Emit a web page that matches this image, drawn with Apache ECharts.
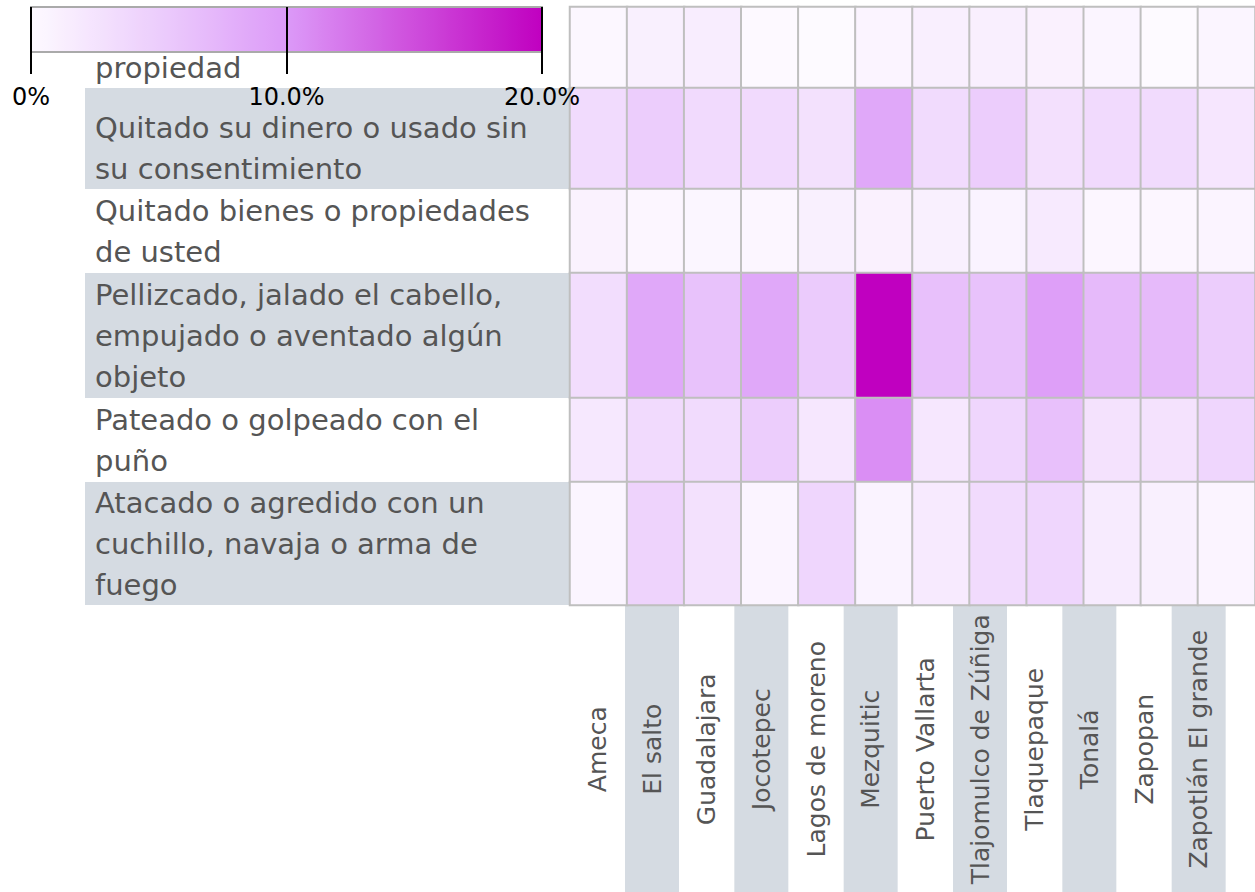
<!DOCTYPE html>
<html>
<head>
    <meta charset="utf-8">
    <title>Violencia por municipio</title>
    <script src="https://cdn.jsdelivr.net/npm/echarts@6/dist/echarts.min.js"></script>
    <style>html, body {margin: 0; padding: 0; background: #fff;}</style>
</head>
<body>
<div id="main" style="width: 1255px;height:892px;"></div>
<script type="text/javascript">
    // columnas
    var municipios = ['Ameca', 'El salto', 'Guadalajara', 'Jocotepec', 'Lagos de moreno', 'Mezquitic',
        'Puerto Vallarta', 'Tlajomulco de Zúñiga', 'Tlaquepaque', 'Tonalá', 'Zapopan', 'Zapotlán El grande'];

    // filas (el texto de la primera queda tapado por la escala)
    var conductas = [
        'Destruido o escondido alguna\npropiedad',
        'Quitado su dinero o usado sin\nsu consentimiento',
        'Quitado bienes o propiedades\nde usted',
        'Pellizcado, jalado el cabello,\nempujado o aventado algún\nobjeto',
        'Pateado o golpeado con el\npuño',
        'Atacado o agredido con un\ncuchillo, navaja o arma de\nfuego'
    ];

    // proporción por municipio, en el orden de "municipios"
    var propiedad  = [0.003, 0.011, 0.015, 0.001, 0.000, 0.007, 0.012, 0.012, 0.010, 0.006, 0.000, 0.006];
    var dinero     = [0.035, 0.050, 0.036, 0.036, 0.028, 0.086, 0.034, 0.050, 0.029, 0.036, 0.035, 0.022];
    var bienes     = [0.009, 0.004, 0.005, 0.004, 0.011, 0.010, 0.011, 0.008, 0.018, 0.004, 0.004, 0.007];
    var pellizcado = [0.032, 0.086, 0.061, 0.086, 0.052, 0.200, 0.063, 0.061, 0.095, 0.069, 0.069, 0.050];
    var pateado    = [0.020, 0.036, 0.034, 0.050, 0.021, 0.108, 0.021, 0.040, 0.063, 0.027, 0.027, 0.040];
    var atacado    = [0.006, 0.043, 0.028, 0.007, 0.040, 0.008, 0.018, 0.035, 0.040, 0.017, 0.011, 0.007];
    var filas = [propiedad, dinero, bienes, pellizcado, pateado, atacado];

    var escalaMin = 0, escalaMax = 0.2, escalaPaso = 0.1;

    // layout: cada fila tiene su propio grid para poder tener altos distintos
    var rowTop = [7, 88, 189, 273, 398, 482];
    var rowH = [81, 101, 84, 125, 84, 123];
    var rowShift = [0, 10, 0, 0, 0, 0];   // bajar el texto de la fila 2
    var FONT = 'DejaVu Sans';
    var GRAY = '#d5dbe2';

    var grid = [], xAxis = [], yAxis = [], series = [];

    filas.forEach(function (fila, i) {
        grid.push({left: 570, width: 695, top: rowTop[i], height: rowH[i]});
        xAxis.push({type: 'category', gridIndex: i, data: municipios, show: false});
        yAxis.push({
            type: 'category', gridIndex: i, data: [conductas[i]],
            axisLine: {show: false}, axisTick: {show: false},
            axisLabel: {
                align: 'left', margin: 475, interval: 0,
                formatter: function (v) { return '{t|' + v.split('\n').join('}\n{t|') + '}'; },
                rich: {t: {color: '#555', fontFamily: FONT, fontSize: 29, lineHeight: 41}},
                backgroundColor: 'rgba(255,255,255,0)',
                padding: [rowShift[i] * 2, 0, 0, 0]
            }
        });
        series.push({
            type: 'heatmap', xAxisIndex: i, yAxisIndex: i,
            data: fila.map(function (v, j) { return [j, 0, v]; }),
            itemStyle: {borderColor: '#bfbfbf', borderWidth: 2},
            emphasis: {disabled: true}
        });
    });

    // bandas de fondo de las etiquetas de fila
    filas.forEach(function (fila, i) {
        grid.push({show: true, left: 85, width: 485, top: rowTop[i], height: rowH[i],
            backgroundColor: i % 2 ? GRAY : '#fff', borderWidth: 0});
    });

    // etiquetas de municipios
    grid.push({left: 570, width: 656, top: 604, height: 1});
    xAxis.push({
        type: 'category', gridIndex: 12, data: municipios, position: 'bottom',
        axisLine: {show: false}, axisTick: {show: false},
        axisLabel: {
            rotate: 90, margin: 0, interval: 0,
            formatter: function (v, idx) { return (idx % 2 ? '{g|' : '{w|') + v + '}'; },
            rich: {
                g: {backgroundColor: GRAY, width: 290, height: 54, align: 'center', color: '#555', fontFamily: FONT, fontSize: 25},
                w: {width: 290, height: 54, align: 'center', color: '#555', fontFamily: FONT, fontSize: 25}
            }
        }
    });
    yAxis.push({type: 'value', gridIndex: 12, show: false});

    // ejes de la escala de color
    grid.push({show: true, left: 31, width: 511, top: 7, height: 45, z: 6,
        backgroundColor: 'transparent', borderColor: '#aaa', borderWidth: 2});
    xAxis.push({
        type: 'value', gridIndex: 13, min: escalaMin, max: escalaMax, interval: escalaPaso, z: 10,
        axisLine: {show: false},
        axisTick: {show: true, length: 22, lineStyle: {color: '#000', width: 2}},
        splitLine: {show: true, lineStyle: {color: '#000', width: 2}},
        axisLabel: {
            margin: 33, color: '#000', fontFamily: FONT, fontSize: 24,
            formatter: function (v) { return v === 0 ? '0%' : (v * 100).toFixed(1) + '%'; }
        }
    });
    yAxis.push({type: 'value', gridIndex: 13, show: false});

    var myChart = echarts.init(document.getElementById('main'), null, {renderer: 'svg'});

    var option = {
        animation: false,
        grid: grid,
        xAxis: xAxis,
        yAxis: yAxis,
        visualMap: {
            type: 'continuous', min: escalaMin, max: escalaMax, orient: 'horizontal',
            left: 31, top: 7, itemWidth: 45, itemHeight: 511, padding: 0,
            calculable: false, seriesIndex: [0, 1, 2, 3, 4, 5],
            inRange: {color: ['#fdfaff', '#eccdfc', '#dc9af8', '#ce4ddc', '#c000c0']}
        },
        series: series
    };

    myChart.setOption(option);
</script>
</body>
</html>
